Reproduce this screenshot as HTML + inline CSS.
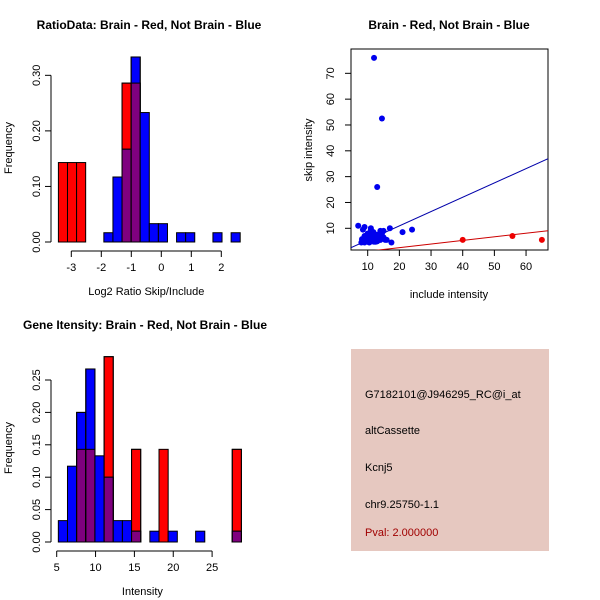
<!DOCTYPE html>
<html><head><meta charset="utf-8"><style>
body{margin:0;background:#fff}
svg{display:block;font-family:"Liberation Sans",sans-serif}
</style></head><body>
<svg id="c" width="600" height="600" viewBox="0 0 600 600">
<text x="149" y="29" font-size="12" font-weight="bold" text-anchor="middle">RatioData: Brain - Red, Not Brain - Blue</text>
<text x="449" y="29" font-size="12" font-weight="bold" text-anchor="middle">Brain - Red, Not Brain - Blue</text>
<text x="145" y="329" font-size="12" font-weight="bold" text-anchor="middle">Gene Itensity: Brain - Red, Not Brain - Blue</text>
<g>
<rect x="351" y="349" width="198" height="202" fill="#e6c8c0"/>
<text x="365" y="398" font-size="11">G7182101@J946295_RC@i_at</text>
<text x="365" y="434" font-size="11">altCassette</text>
<text x="365" y="471" font-size="11">Kcnj5</text>
<text x="365" y="508" font-size="11">chr9.25750-1.1</text>
<text x="365" y="536" font-size="11" fill="#a00000">Pval: 2.000000</text>
</g>
<g id="g1"></g><g id="g2"></g><g id="g3"></g>
</svg>
<script>
// Ratio histogram data
const ratioBinStart = -3.43, ratioBinWidth = 0.303;
const ratioRed  = [0.143,0.143,0.143,0,0,0,0,0.286,0.286,0,0,0,0,0,0,0,0,0,0,0];
const ratioBlue = [0,0,0,0,0,0.0167,0.117,0.167,0.333,0.233,0.033,0.033,0,0.0167,0.0167,0,0,0.0167,0,0.0167];
const ratioXTicks = [-3,-2,-1,0,1,2];
const ratioYTicks = [0,0.1,0.2,0.3];
// Intensity histogram data
const intBinStart = 5.21, intBinWidth = 1.178;
const intRed  = [0,0,0.143,0.143,0,0.286,0,0,0.143,0,0,0.143,0,0,0,0,0,0,0,0.143];
const intBlue = [0.033,0.117,0.2,0.267,0.133,0.1,0.033,0.033,0.0167,0,0.0167,0,0.0167,0,0,0.0167,0,0,0,0.0167];
const intXTicks = [5,10,15,20,25];
const intYTicks = [0,0.05,0.1,0.15,0.2,0.25];
// Scatter data
const blueInclude = [7,9,8.5,11,12,14.5,13,17,21,24,17.5,16,14,15,14.5,8,8.5,9,9.5,10,10,10.5,11,11,11.5,12,12,12.5,13,13,13.5,14,9,9.5,10,10.5,11,11.5,12,12.5,13,13.5,14,15,15.5,10,11,12,9,10.5,8.2,11.8,12.8,13.2,14.8];
const blueSkip    = [11,10.5,9.5,10,76,52.5,26,10,8.5,9.5,4.5,5.5,9,9,8,4.5,5,5.5,6,6.5,7,7.5,8,9.5,6.5,5.5,7,6,5,7.5,6.5,5.5,4.5,5,5,4.5,5,5,4.8,4.8,5,5.5,6,6.5,5.5,8,7.5,6,7,6,5.8,8.5,5.2,7,6];
const redInclude = [40,55.7,65];
const redSkip    = [5.5,7,5.5];
const blueFit = [-0.14,0.554]; // intercept, slope
const redFit  = [-0.3,0.14];
const scXTicks = [10,20,30,40,50,60];
const scYTicks = [10,20,30,40,50,60,70];

const NS="http://www.w3.org/2000/svg";
function mk(p,t,a,txt){const e=document.createElementNS(NS,t);for(const k in a)e.setAttribute(k,a[k]);if(txt!==undefined)e.textContent=txt;p.appendChild(e);return e;}

function hist(g,cfg){
  const sx=v=>cfg.x0px+(v-cfg.x0)*cfg.xs, sy=v=>cfg.y0px-v*cfg.ys;
  const n=Math.max(cfg.red.length,cfg.blue.length);
  for(let i=0;i<n;i++){
    const l=sx(cfg.bs+i*cfg.bw), w=cfg.bw*cfg.xs, r=cfg.red[i]||0, b=cfg.blue[i]||0;
    if(r>0){const e=mk(g,'rect',{x:l,y:sy(r),width:w,height:r*cfg.ys,fill:'#ff0000',stroke:'#000','stroke-width':1});
      
      }
    if(b>0){const e=mk(g,'rect',{x:l,y:sy(b),width:w,height:b*cfg.ys,fill:'#0000ff',stroke:'#000','stroke-width':1});
      
      }
    const m=Math.min(r,b);
    if(m>0){const e=mk(g,'rect',{x:l,y:sy(m),width:w,height:m*cfg.ys,fill:'#7f007f',stroke:'#000','stroke-width':1});
      
      }
    if(r>b&&b>0){mk(g,'rect',{x:l,y:sy(r),width:w,height:r*cfg.ys,fill:'none',stroke:'#000','stroke-width':1});}
    if(b>r&&r>0){mk(g,'rect',{x:l,y:sy(b),width:w,height:b*cfg.ys,fill:'none',stroke:'#000','stroke-width':1});}
  }
  const xt=cfg.xt, ay=cfg.xAxisY;
  const xa=mk(g,'line',{x1:sx(xt[0]),x2:sx(xt[xt.length-1]),y1:ay,y2:ay,stroke:'#000'});
  
  
  xt.forEach(v=>{mk(g,'line',{x1:sx(v),x2:sx(v),y1:ay,y2:ay+6,stroke:'#000'});
    const t=mk(g,'text',{x:sx(v),y:ay+20,'font-size':11,'text-anchor':'middle'},String(v));
    
    });
  const yt=cfg.yt;
  const ya=mk(g,'line',{x1:51,x2:51,y1:sy(yt[0]),y2:sy(yt[yt.length-1]),stroke:'#000'});
  
  
  yt.forEach(v=>{mk(g,'line',{x1:45,x2:51,y1:sy(v),y2:sy(v),stroke:'#000'});
    const t=mk(g,'text',{x:0,y:0,'font-size':11,'text-anchor':'middle',transform:`translate(40,${sy(v)}) rotate(-90)`},v.toFixed(cfg.dec));
    
    });
  const xl=mk(g,'text',{x:sx((xt[0]+xt[xt.length-1])/2)+cfg.xlOff,y:ay+44,'font-size':11,'text-anchor':'middle'},cfg.xl);
  
  
  const yl=mk(g,'text',{x:0,y:0,'font-size':11,'text-anchor':'middle',transform:`translate(12,${cfg.ylY}) rotate(-90)`},'Frequency');
  
  
}
hist(document.getElementById('g1'),{x0:-3,x0px:71.3,xs:30,y0px:242,ys:555.6,bs:ratioBinStart,bw:ratioBinWidth,red:ratioRed,blue:ratioBlue,xt:ratioXTicks,yt:ratioYTicks,xAxisY:251,dec:2,xl:'Log2 Ratio Skip/Include',xlOff:0,ylY:148});
hist(document.getElementById('g2'),{x0:5,x0px:56.7,xs:7.77,y0px:542,ys:648,bs:intBinStart,bw:intBinWidth,red:intRed,blue:intBlue,xt:intXTicks,yt:intYTicks,xAxisY:551,dec:2,xl:'Intensity',xlOff:8,ylY:448});

// Scatter
(function(){
  const g=document.getElementById('g3');
  const L=351,R=548,T=49,B=250;
  const sx=v=>367.7+(v-10)*3.167, sy=v=>228.3-(v-10)*2.583;
  const box=mk(g,'rect',{x:L,y:T,width:R-L,height:B-T,fill:'none',stroke:'#000'});
  
  
  mk(g,'clipPath',{id:'cp'}).appendChild(document.createElementNS(NS,'rect'));
  const cr=g.querySelector('#cp rect');cr.setAttribute('x',L);cr.setAttribute('y',T);cr.setAttribute('width',R-L);cr.setAttribute('height',B-T);
  const xmin=(L-367.7)/3.167+10, xmax=(R-367.7)/3.167+10;
  [[blueFit,'#0000aa','blue-fit-line'],[redFit,'#cc0000','red-fit-line']].forEach(([f,c,n])=>{
    const e=mk(g,'line',{x1:sx(xmin),y1:sy(f[0]+f[1]*xmin),x2:sx(xmax),y2:sy(f[0]+f[1]*xmax),stroke:c,'clip-path':'url(#cp)'});
    
    
  });
  blueInclude.forEach((x,i)=>{const e=mk(g,'circle',{cx:sx(x),cy:sy(blueSkip[i]),r:3,fill:'#0000ee'});
    
    });
  redInclude.forEach((x,i)=>{const e=mk(g,'circle',{cx:sx(x),cy:sy(redSkip[i]),r:3,fill:'#ee0000'});
    
    });
  scXTicks.forEach(v=>{mk(g,'line',{x1:sx(v),x2:sx(v),y1:B,y2:B+6,stroke:'#000'});
    const t=mk(g,'text',{x:sx(v),y:B+20,'font-size':11,'text-anchor':'middle'},String(v));
    
    });
  scYTicks.forEach(v=>{mk(g,'line',{x1:L-6,x2:L,y1:sy(v),y2:sy(v),stroke:'#000'});
    const t=mk(g,'text',{x:0,y:0,'font-size':11,'text-anchor':'middle',transform:`translate(334,${sy(v)}) rotate(-90)`},String(v));
    
    });
  const xl=mk(g,'text',{x:449,y:298,'font-size':11,'text-anchor':'middle'},'include intensity');
  
  
  const yl=mk(g,'text',{x:0,y:0,'font-size':11,'text-anchor':'middle',transform:'translate(312,150) rotate(-90)'},'skip intensity');
  
  
})();
</script>
</body></html>
